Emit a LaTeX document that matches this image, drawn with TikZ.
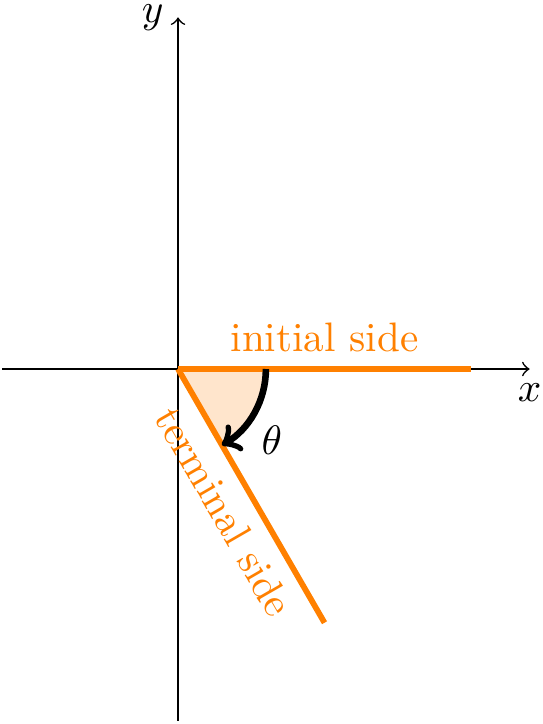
\documentclass[tikz,border=0pt]{standalone}
\usepackage{tikz}
\usepackage{xcolor}
\usetikzlibrary{positioning,arrows}

\begin{document}
\begin{tikzpicture}[
    axis/.style={->},
    side/.style={orange,line width=1.4pt},
    anglearc/.style={->,ultra thick,black}]
      \useasboundingbox (-1.519,-3.029) rectangle (3.106,3.149);
      \coordinate (O) at (0,0);
      \coordinate (xl) at (-1.5,0);
      \coordinate (xr) at (3,0);
      \coordinate (yb) at (0,-3);
      \coordinate (yt) at (0,3);
      \coordinate (I) at (2.5,0);
      \coordinate (T) at (-60:2.5);
      \coordinate (A) at (0.75,0);

      \fill[orange!20] (O) -- (A) arc (0:-60:0.75) -- cycle;

      \draw[axis] (xl) -- (xr) node[below] (xlab) {$x$};
      \draw[axis] (yb) -- (yt) node[left] (ylab) {$y$};

      \draw[side] (O) -- (I) node[midway,above] (ilab) {initial side};
      \draw[side] (O) -- (T) node[midway,sloped,below] (tlab) {terminal side};

      \draw[anglearc] (A) arc (0:-60:0.75);
      \node (theta) at (0.8,-0.61) {$\theta$};
\end{tikzpicture}
\end{document}
